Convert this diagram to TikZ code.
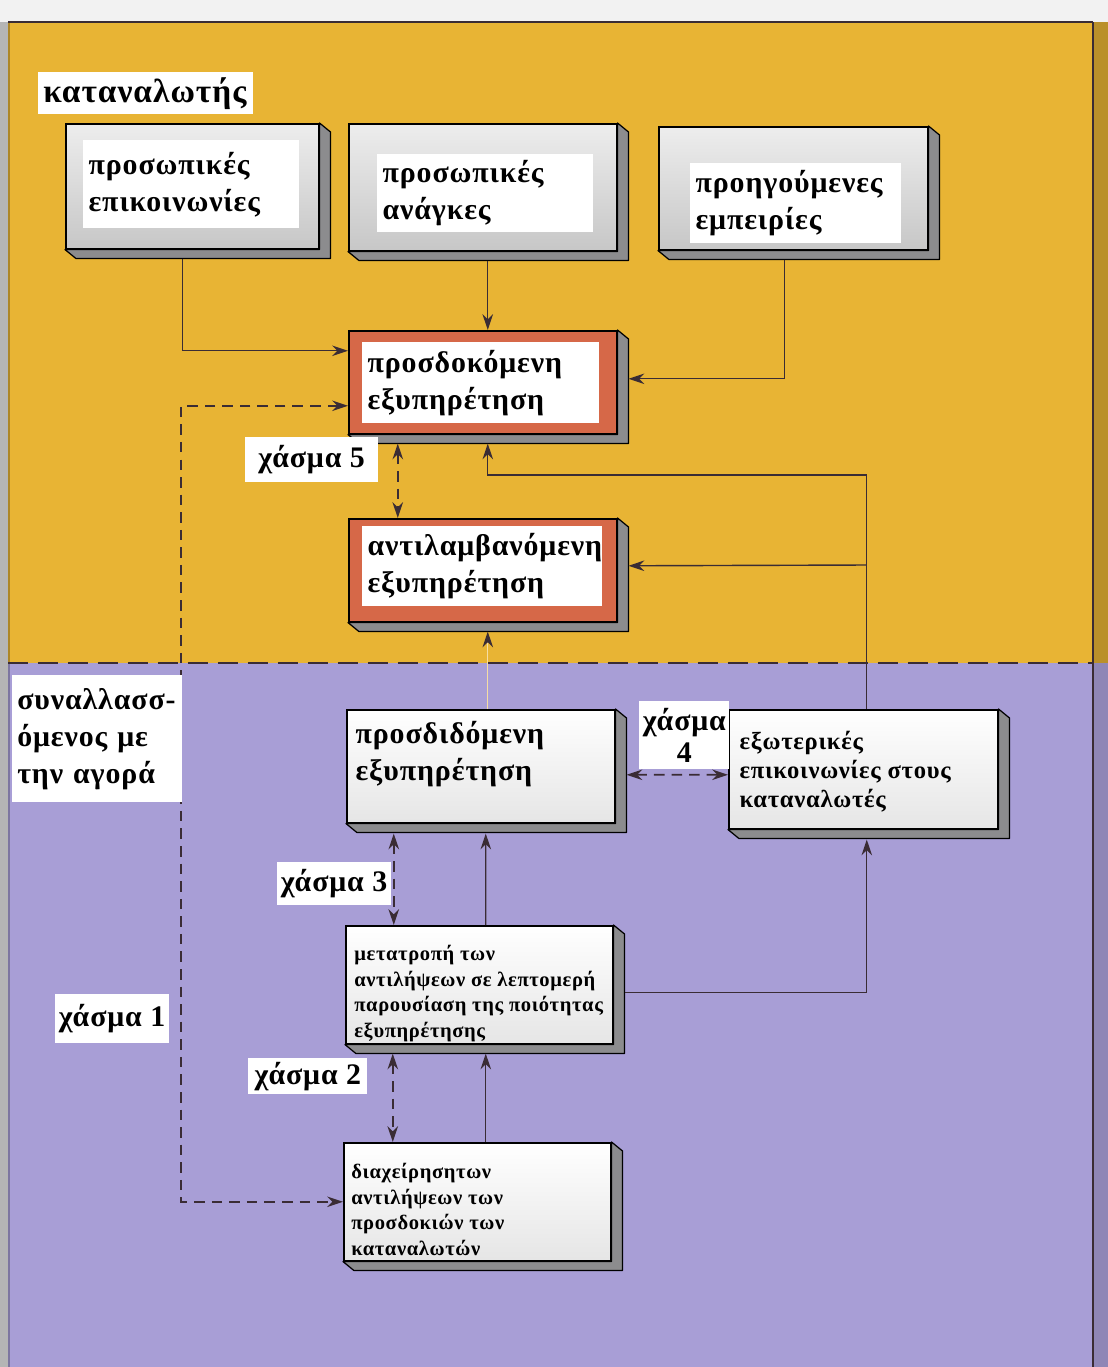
\documentclass[tikz,border=0pt]{standalone}
\usepackage{fontspec}
\setmainfont{Liberation Serif}[LetterSpace=3]
\usetikzlibrary{arrows.meta}

\definecolor{sunband}{RGB}{232,180,52}
\definecolor{lilacband}{RGB}{168,158,214}
\definecolor{frameRed}{RGB}{214,104,72}
\definecolor{lineDark}{RGB}{58,44,52}
\definecolor{bevelGray}{RGB}{140,140,142}

\begin{document}
\begin{tikzpicture}[x=0.02cm, y=-0.02cm]
    % Styles
    \tikzstyle{outerbox} = [rectangle, draw=black, line width=0.9pt, anchor=north west, inner sep=0pt]
    \tikzstyle{greybox} = [outerbox, top color=black!7, bottom color=black!22]
    \tikzstyle{redbox} = [outerbox, fill=frameRed]
    \tikzstyle{whitebox} = [outerbox, top color=white, bottom color=black!10]
    \tikzstyle{txt} = [rectangle, fill=white, anchor=north west, inner sep=3pt, align=left, font=\fontsize{17}{21}\selectfont\bfseries]
    \tikzstyle{smalltxt} = [anchor=north west, inner sep=0pt, align=left, font=\fontsize{11.7}{14.5}\selectfont\bfseries]
    \tikzstyle{gaptag} = [rectangle, fill=white, anchor=north west, inner sep=2pt, font=\fontsize{17}{21}\selectfont\bfseries]
    \tikzstyle{bevel} = [fill=bevelGray, draw=black, line width=0.7pt, line join=round]
    \tikzstyle{conn} = [-{Stealth[length=9pt,width=6pt]}, draw=lineDark, line width=0.8pt]
    \tikzstyle{gapconn} = [{Stealth[length=9pt,width=6pt]}-{Stealth[length=9pt,width=6pt]}, draw=lineDark, line width=1pt, dash pattern=on 6pt off 4pt]

    \useasboundingbox (0,0) rectangle (1108,1367);

    % Page: the two bands
    \fill[black!5] (0,0) rectangle (1108,1367);
    \fill[sunband] (8,22) rectangle (1108,663);
    \fill[lilacband] (8,663) rectangle (1108,1367);
    \fill[sunband!80!black] (1093,22) rectangle (1108,663);
    \fill[lilacband!85!black] (1093,663) rectangle (1108,1367);
    \fill[black, opacity=0.25] (0,22) rectangle (10,1367);
    \draw[lineDark, line width=1.5pt] (8,22) -- (1093,22);
    \draw[lineDark, line width=1pt] (1093,22) -- (1093,1367);
    \draw[lineDark, line width=1.5pt, dash pattern=on 0.4cm off 0.2cm] (8,663) -- (1093,663);

    % Nodes - consumer side
    \node[greybox, minimum width=5.06cm, minimum height=2.5cm] (pcomm) at (65,123) {};
    \node[txt, text width=4.1cm, minimum height=1.76cm] (pcommtxt) at (83,140) {προσωπικές\\επικοινωνίες};
    \node[greybox, minimum width=5.36cm, minimum height=2.54cm] (pneeds) at (348,123) {};
    \node[txt, text width=4.11cm, minimum height=1.56cm] (pneedstxt) at (377,154) {προσωπικές\\ανάγκες};
    \node[greybox, minimum width=5.38cm, minimum height=2.46cm] (pastexp) at (658,126) {};
    \node[txt, text width=4.01cm, minimum height=1.6cm] (pastexptxt) at (690,163) {προηγούμενες\\εμπειρίες};
    \node[redbox, minimum width=5.36cm, minimum height=2.06cm] (expected) at (348,330) {};
    \node[txt, text width=4.53cm, minimum height=1.62cm] (expectedtxt) at (362,342) {προσδοκόμενη\\εξυπηρέτηση};
    \node[redbox, minimum width=5.36cm, minimum height=2.06cm] (perceived) at (348,518) {};
    \node[txt, text width=4.59cm, minimum height=1.6cm] (perceivedtxt) at (362,526) {αντιλαμβανόμενη\\εξυπηρέτηση};

    % Nodes - market side
    \node[whitebox, minimum width=5.36cm, minimum height=2.26cm] (delivered) at (346,709) {};
    \node[txt, fill=none] (deliveredtxt) at (350,716) {προσδιδόμενη\\εξυπηρέτηση};
    \node[whitebox, minimum width=5.38cm, minimum height=2.38cm] (extcomm) at (728,709) {};
    \node[txt, fill=none, font=\fontsize{14}{16.5}\selectfont\bfseries] (extcommtxt) at (734,726) {εξωτερικές\\επικοινωνίες στους\\καταναλωτές};
    \node[whitebox, minimum width=5.34cm, minimum height=2.36cm] (translate) at (345,925) {};
    \node[smalltxt] (translatetxt) at (354,945) {μετατροπή των\\αντιλήψεων σε λεπτομερή\\παρουσίαση της ποιότητας\\εξυπηρέτησης};
    \node[whitebox, minimum width=5.34cm, minimum height=2.36cm] (mgmt) at (343,1142) {};
    \node[smalltxt] (mgmttxt) at (351,1163) {διαχείρησητων\\αντιλήψεων των\\προσδοκιών των\\καταναλωτών};

    \foreach \n in {pcomm,pneeds,pastexp,expected,perceived,delivered,extcomm,translate,mgmt} {
        \filldraw[bevel] (\n.north east) -- ++(11,9) -- ([shift={(11,9)}]\n.south east)
            -- ([shift={(11,9)}]\n.south west) -- (\n.south west) -- (\n.south east) -- cycle;
    }

    % Arrows
    \draw[conn] ([shift={(-9.5,9)}]pcomm.south) |- ([shift={(0,-31.5)}]expected.west);
    \draw[conn] ([shift={(5,9)}]pneeds.south) -- ([shift={(5,0)}]expected.north);
    \draw[conn] ([shift={(-8.5,9)}]pastexp.south) |- ([shift={(11,-3.5)}]expected.east);
    \draw[conn] ([shift={(3.5,0)}]extcomm.north) -- ++(0,-234) -| ([shift={(5,9)}]expected.south);
    \coordinate (split) at ([shift={(3.5,-144)}]extcomm.north);
    \draw[conn] (split) -- ([shift={(11,-4.5)}]perceived.east);
    \draw[conn, draw=sunband!45!white, -{Stealth[length=9pt,width=6pt,color=lineDark]}] ([shift={(7,0)}]delivered.north) -- ([shift={(5,9)}]perceived.south);
    \draw[conn] ([shift={(6.5,0)}]translate.north) -- ([shift={(5,10)}]delivered.south);
    \draw[conn] ([shift={(11,8)}]translate.east) -| ([shift={(3.5,10)}]extcomm.south);
    \draw[conn] ([shift={(8.5,0)}]mgmt.north) -- ([shift={(6.5,9)}]translate.south);

    % Gaps
    \draw[gapconn] ([shift={(0,23.5)}]expected.west) -- ++(-167,0) |- (mgmt.west);
    \draw[gapconn] ([shift={(-85,9)}]expected.south) -- ([shift={(-85,0)}]perceived.north);
    \draw[gapconn] ([shift={(11,8.5)}]delivered.east) -- ([shift={(0,5.5)}]extcomm.west);
    \draw[gapconn] ([shift={(-87,10)}]delivered.south) -- ([shift={(-85.5,0)}]translate.north);
    \draw[gapconn] ([shift={(-86.5,9)}]translate.south) -- ([shift={(-84.5,0)}]mgmt.north);

    % Labels
    \node[gaptag, inner sep=0.1cm, text width=4.1cm, minimum height=0.8cm, font=\fontsize{19}{22}\selectfont\bfseries] (consumer) at (38,72) {καταναλωτής};
    \node[gaptag, inner sep=0.1cm, text width=3.2cm, minimum height=2.54cm, align=left] (market) at (12,675) {συναλλασσ-\\όμενος με\\την αγορά};
    \node[gaptag, minimum width=2.65cm, minimum height=0.9cm] (gapfive) at (245,437) {χάσμα 5};
    \node[gaptag, minimum width=1.76cm, minimum height=1.36cm, align=center, font=\fontsize{17}{18}\selectfont\bfseries] (gapfour) at (639,701) {χάσμα\\4};
    \node[gaptag, minimum width=2.16cm, minimum height=0.86cm] (gapthree) at (277,862) {χάσμα 3};
    \node[gaptag, minimum width=2.24cm, minimum height=0.98cm] (gapone) at (55,994) {χάσμα 1};
    \node[gaptag, minimum width=2.38cm, minimum height=0.64cm] (gaptwo) at (248,1058) {χάσμα 2};
\end{tikzpicture}
\end{document}
